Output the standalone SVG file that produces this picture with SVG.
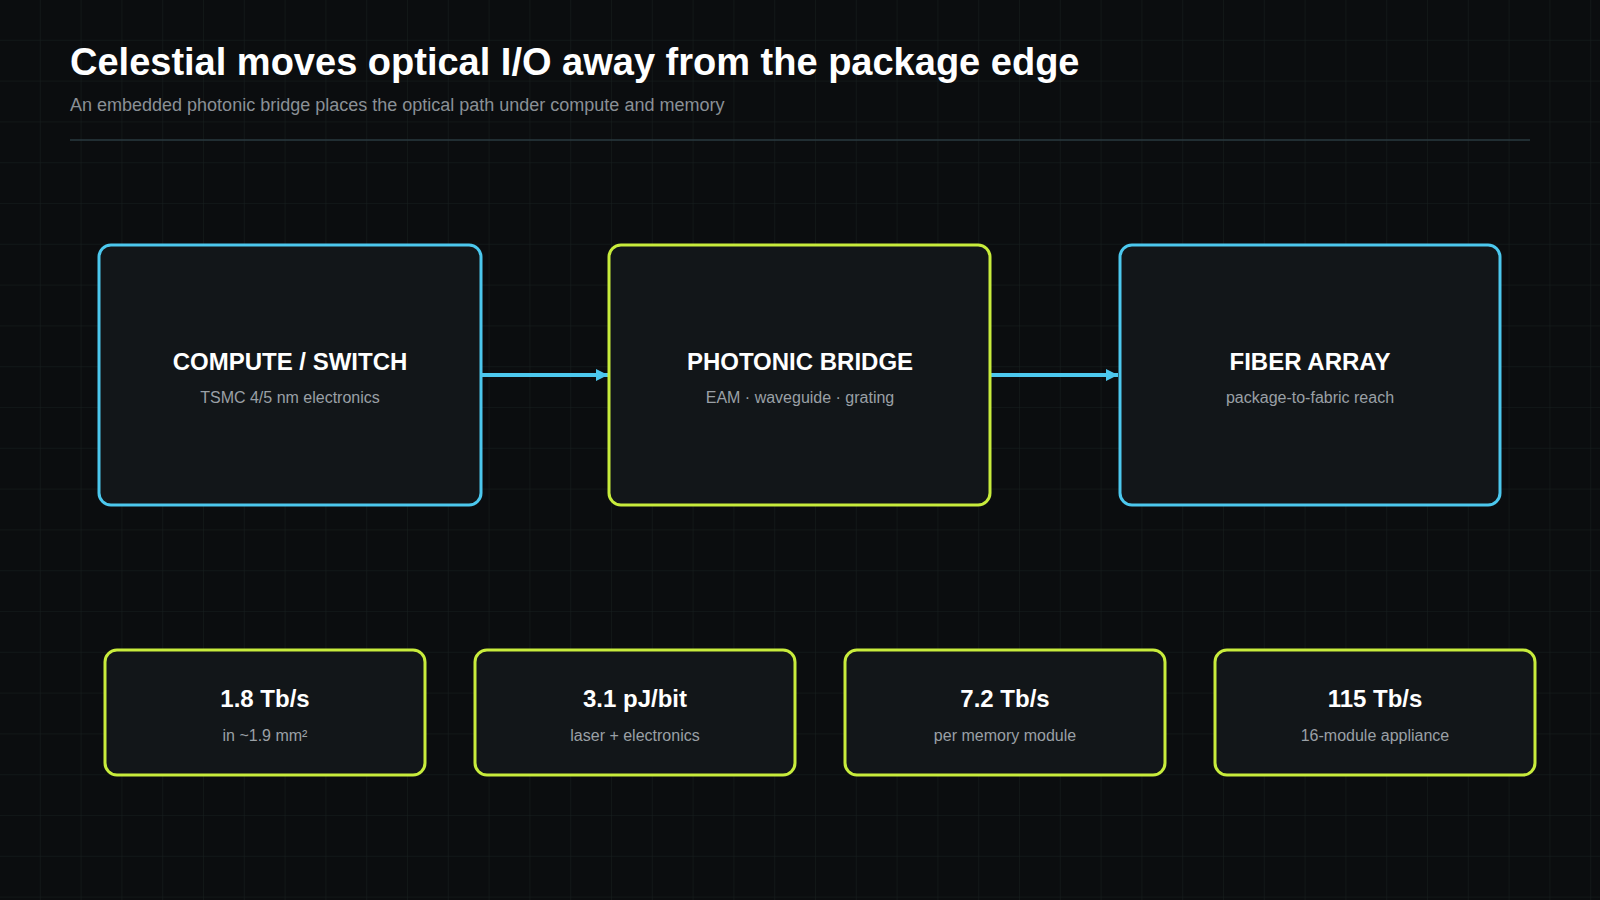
<svg xmlns="http://www.w3.org/2000/svg" width="1600" height="900" viewBox="0 0 1600 900">
<defs>
<pattern id="grid" x="0" y="0" width="40.8" height="40.8" patternUnits="userSpaceOnUse">
<path d="M40.8 0V40.8M0 40.8H40.8" fill="none" stroke="#18201f" stroke-width="1"/>
</pattern>
<marker id="ah" markerWidth="12" markerHeight="12" refX="12" refY="6" orient="auto" markerUnits="userSpaceOnUse">
<path d="M0 0L12 6L0 12Z" fill="#4cc8ee"/>
</marker>
<style>
text{font-family:"Liberation Sans",Arial,sans-serif}
.t{fill:#fff;font-weight:bold;font-size:24px;text-anchor:middle}
.s{fill:#9aa0a6;font-size:16px;text-anchor:middle}
.c{fill:#121619;stroke:#4cc8ee;stroke-width:3}
.l{fill:#121619;stroke:#c8ec3c;stroke-width:3}
</style>
</defs>
<rect width="1600" height="900" fill="#0b0d0f"/>
<rect width="1600" height="900" fill="url(#grid)"/>
<text x="70" y="75" font-size="38" font-weight="bold" fill="#fff">Celestial moves optical I/O away from the package edge</text>
<text x="70" y="111" font-size="18" fill="#8a9096">An embedded photonic bridge places the optical path under compute and memory</text>
<line x1="70" y1="140" x2="1530" y2="140" stroke="#2a3a40" stroke-width="1.5"/>
<g id="connectors" stroke="#4cc8ee" stroke-width="4" fill="none">
<line x1="481" y1="375" x2="608" y2="375" marker-end="url(#ah)"/>
<line x1="990" y1="375" x2="1118" y2="375" marker-end="url(#ah)"/>
</g>
<g id="compute"><rect class="c" x="99" y="245" width="382" height="260" rx="12"/>
<text class="t" x="290" y="370">COMPUTE / SWITCH</text><text class="s" x="290" y="403">TSMC 4/5 nm electronics</text></g>
<g id="bridge"><rect class="l" x="609" y="245" width="381" height="260" rx="12"/>
<text class="t" x="800" y="370">PHOTONIC BRIDGE</text><text class="s" x="800" y="403">EAM · waveguide · grating</text></g>
<g id="fiber"><rect class="c" x="1120" y="245" width="380" height="260" rx="12"/>
<text class="t" x="1310" y="370">FIBER ARRAY</text><text class="s" x="1310" y="403">package-to-fabric reach</text></g>
<g id="stat1"><rect class="l" x="105" y="650" width="320" height="125" rx="12"/>
<text class="t" x="265" y="707">1.8 Tb/s</text><text class="s" x="265" y="741">in ~1.9 mm²</text></g>
<g id="stat2"><rect class="l" x="475" y="650" width="320" height="125" rx="12"/>
<text class="t" x="635" y="707">3.1 pJ/bit</text><text class="s" x="635" y="741">laser + electronics</text></g>
<g id="stat3"><rect class="l" x="845" y="650" width="320" height="125" rx="12"/>
<text class="t" x="1005" y="707">7.2 Tb/s</text><text class="s" x="1005" y="741">per memory module</text></g>
<g id="stat4"><rect class="l" x="1215" y="650" width="320" height="125" rx="12"/>
<text class="t" x="1375" y="707">115 Tb/s</text><text class="s" x="1375" y="741">16-module appliance</text></g>
</svg>
